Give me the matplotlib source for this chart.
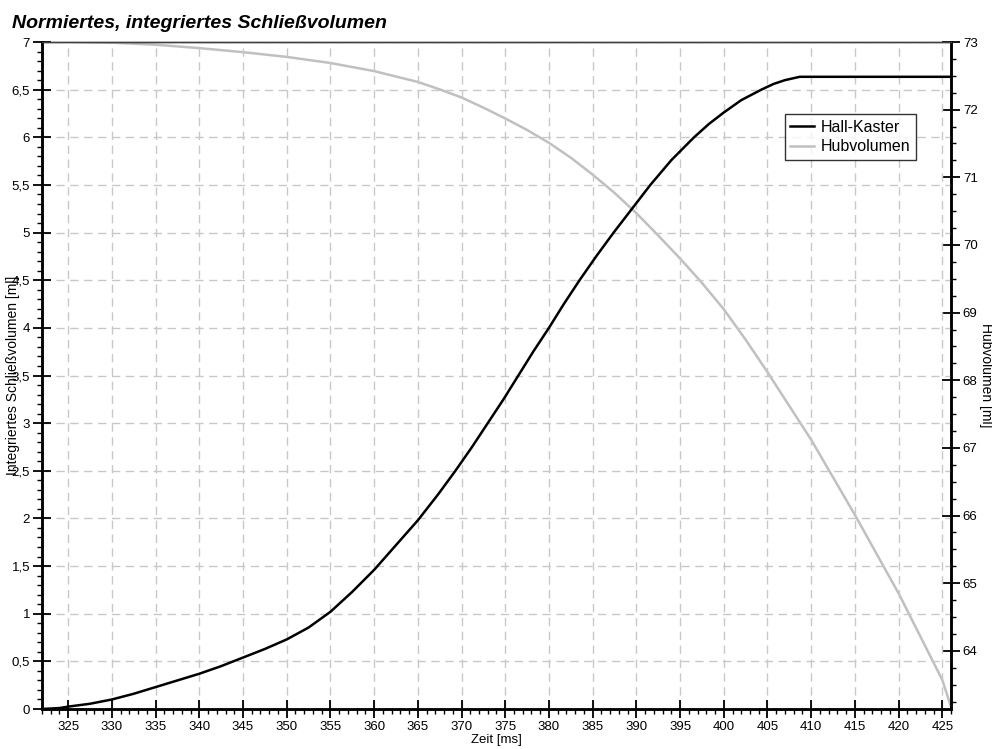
import numpy as np
import matplotlib
matplotlib.use('Agg')
import matplotlib.pyplot as plt
from matplotlib.ticker import MultipleLocator, FuncFormatter

plt.rcParams['font.family'] = ['Liberation Sans', 'DejaVu Sans']

# Hall-Kaster: integrated closing volume [ml] (left axis)
hall_t = [322.0, 324.0, 325.0, 327.5, 330.0, 332.5, 335.0, 337.5, 340.0,
          342.5, 345.0, 347.5, 350.0, 352.5, 355.0, 357.5, 360.0, 362.5,
          365.0, 367.3, 369.3, 371.2, 373.0, 374.8, 376.5, 378.2, 380.0,
          381.7, 383.5, 385.4, 387.4, 389.5, 391.6, 394.0, 396.6, 398.3,
          400.0, 402.0, 404.3, 405.7, 407.0, 408.7, 426.0]
hall_v = [0.0, 0.01, 0.025, 0.055, 0.10, 0.16, 0.23, 0.30, 0.37,
          0.45, 0.54, 0.63, 0.73, 0.855, 1.02, 1.23, 1.46, 1.72,
          1.98, 2.25, 2.5, 2.75, 3.0, 3.25, 3.5, 3.75, 4.0,
          4.25, 4.5, 4.75, 5.0, 5.25, 5.5, 5.76, 6.0, 6.14,
          6.26, 6.39, 6.5, 6.56, 6.6, 6.635, 6.635]

# Hubvolumen: stroke volume [ml] (right axis)
hub_t = [326.3, 330.0, 335.0, 340.0, 345.0, 350.0, 355.0, 360.0, 365.0,
         367.5, 370.0, 372.5, 375.0, 377.5, 380.0, 382.5, 385.0, 387.5,
         390.0, 392.5, 395.0, 397.5, 400.0, 402.5, 405.0, 410.0, 415.0,
         420.0, 425.0, 426.0]
hub_v = [73.0, 72.99, 72.96, 72.91, 72.85, 72.78, 72.69, 72.57, 72.41,
         72.30, 72.18, 72.03, 71.87, 71.70, 71.51, 71.29, 71.04, 70.77,
         70.47, 70.14, 69.80, 69.44, 69.05, 68.60, 68.12, 67.12, 66.01,
         64.85, 63.57, 63.17]

fig = plt.figure(figsize=(9.92, 7.49), dpi=100)
ax = fig.add_axes([0.0423, 0.0534, 0.9164, 0.8905])
ax2 = ax.twinx()

# black curve on top of the grey one
ax.set_zorder(ax2.get_zorder() + 1)
ax.patch.set_visible(False)

l1, = ax.plot(hall_t, hall_v, color='black', lw=1.8, label='Hall-Kaster')
l2, = ax2.plot(hub_t, hub_v, color='#c0c0c0', lw=1.8, label='Hubvolumen')

ax.set_xlim(322, 426)
ax.set_ylim(0, 7)
ax2.set_ylim(63.14, 73)

ax.xaxis.set_major_locator(MultipleLocator(5))
ax.xaxis.set_minor_locator(MultipleLocator(1))
ax.yaxis.set_major_locator(MultipleLocator(0.5))
ax.yaxis.set_minor_locator(MultipleLocator(0.1))
ax2.yaxis.set_major_locator(MultipleLocator(1))
ax2.yaxis.set_minor_locator(MultipleLocator(0.25))


def comma(v, pos):
    s = ('%.1f' % v).rstrip('0').rstrip('.')
    return s.replace('.', ',')


ax.yaxis.set_major_formatter(FuncFormatter(comma))

ax.grid(True, which='major', color='#c8c8c8', ls=(0, (6, 4)), lw=1)

ax.tick_params(axis='both', which='major', direction='inout', length=13,
               width=1.3, labelsize=9.5, pad=2)
ax.tick_params(axis='both', which='minor', direction='out', length=3.5, width=1)
ax2.tick_params(axis='y', which='major', direction='inout', length=13,
                width=1.3, labelsize=9.5, pad=2)
ax2.tick_params(axis='y', which='minor', direction='out', length=3.5, width=1)

for a in (ax, ax2):
    for side in ('left', 'bottom', 'right'):
        a.spines[side].set_linewidth(1.8)
    a.spines['top'].set_linewidth(1.0)
    a.spines['top'].set_color('#404040')

ax.set_xlabel('Zeit [ms]', fontsize=9.5, labelpad=1)
ax.set_ylabel('Integriertes Schließvolumen [ml]', fontsize=10)
ax.yaxis.set_label_coords(-0.024, 0.5)
ax2.set_ylabel('Hubvolumen [ml]', fontsize=10, rotation=270)
ax2.yaxis.set_label_coords(1.046, 0.5)

fig.text(0.012, 0.963, 'Normiertes, integriertes Schließvolumen',
         fontsize=14, fontweight='bold', fontstyle='italic', va='baseline')

leg = ax.legend(handles=[l1, l2], loc='upper left',
                bbox_to_anchor=(0.817, 0.892), fontsize=11.5, frameon=True,
                fancybox=False, handlelength=1.5, borderpad=0.35,
                labelspacing=0.3, handletextpad=0.4, borderaxespad=0)
leg.get_frame().set_edgecolor('black')
leg.get_frame().set_linewidth(1.0)

fig.savefig('out.png', dpi=100)
